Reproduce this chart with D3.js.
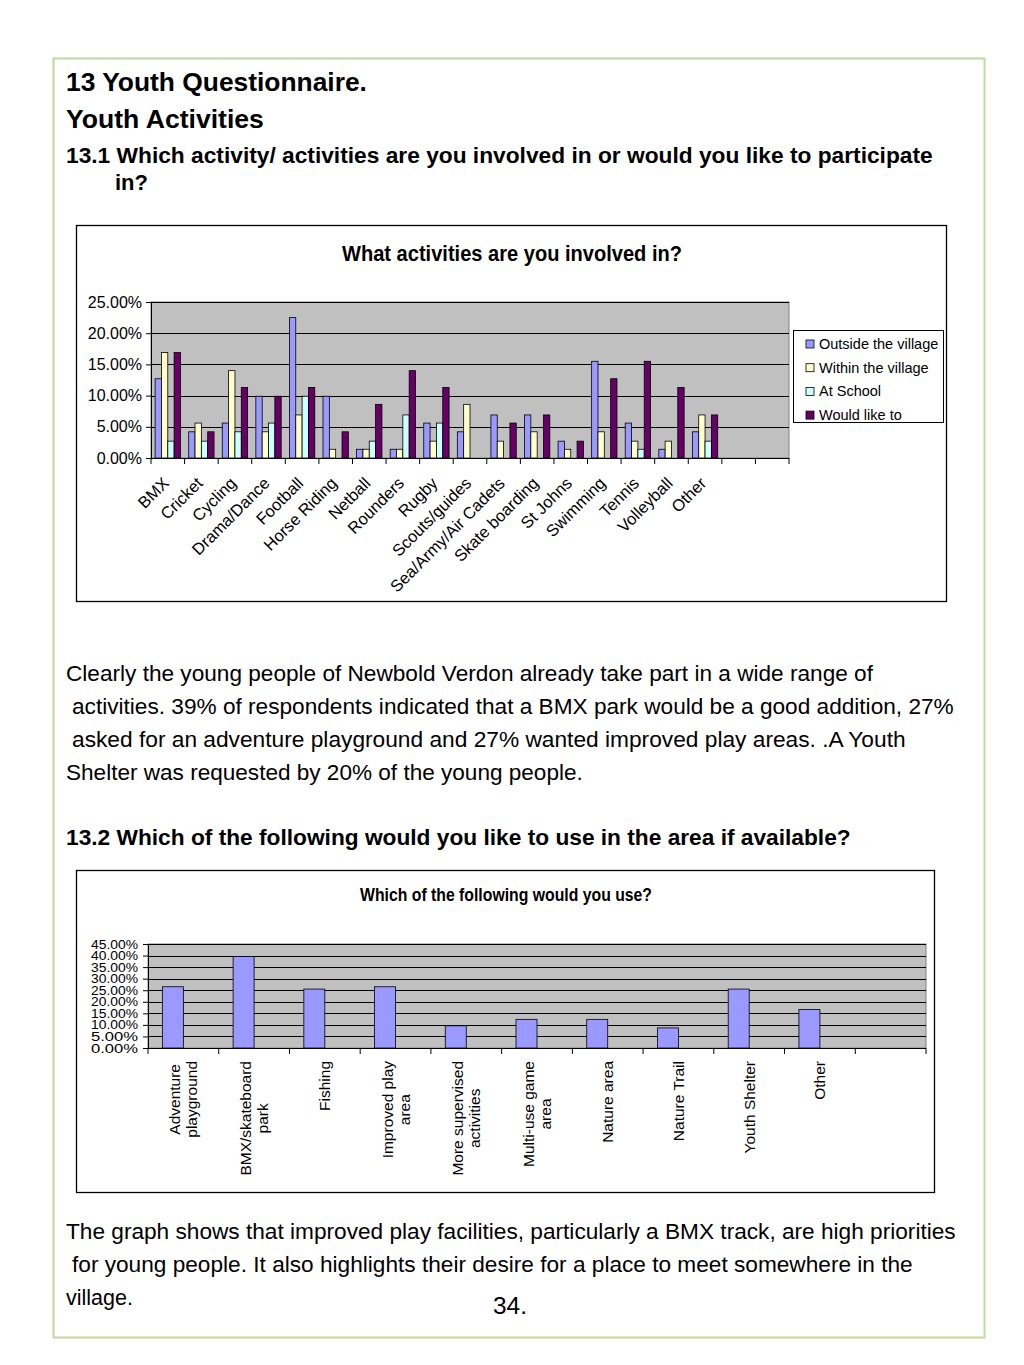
<!DOCTYPE html>
<html><head><meta charset="utf-8">
<script src="https://cdn.jsdelivr.net/npm/d3@7/dist/d3.min.js"></script>
<style>body{margin:0;background:#fff} svg{display:block} text{font-family:"Liberation Sans",Arial,Helvetica,sans-serif;fill:#000}</style>
</head><body><svg id="page" width="1024" height="1365"></svg>
<script>
// ---------- DATA ----------
const activities = ["BMX","Cricket","Cycling","Drama/Dance","Football","Horse Riding","Netball","Rounders","Rugby","Scouts/guides","Sea/Army/Air Cadets","Skate boarding","St Johns","Swimming","Tennis","Volleyball","Other"];
const seriesNames = ["Outside the village","Within the village","At School","Would like to"];
const outsideVillage = [12.7,4.2,5.6,9.9,22.5,9.9,1.4,1.4,5.6,4.2,6.9,6.9,2.7,15.5,5.6,1.4,4.2];
const withinVillage  = [16.9,5.6,14.0,4.2,6.9,1.4,1.4,1.4,2.7,8.6,2.7,4.2,1.4,4.2,2.7,2.7,6.9];
const atSchool       = [2.7,2.7,4.2,5.6,9.9,0,2.7,6.9,5.6,0,0,0,0,0,1.4,0,2.7];
const wouldLikeTo    = [16.9,4.2,11.3,9.9,11.3,4.2,8.6,14.0,11.3,0,5.6,6.9,2.7,12.7,15.5,11.3,6.9];
const ticks1 = [0,5,10,15,20,25];

const facilities = [["Adventure","playground"],["BMX/skateboard","park"],["Fishing"],["Improved play","area"],["More supervised","activities"],["Multi-use game","area"],["Nature area"],["Nature Trail"],["Youth Shelter"],["Other"]];
const useValues = [26.5,39.6,25.5,26.5,9.6,12.4,12.4,8.7,25.5,16.7];
const ticks2 = [0,5,10,15,20,25,30,35,40,45];

const colors = ["#9999ff","#ffffcc","#ccffff","#660066"];
const series1 = [outsideVillage, withinVillage, atSchool, wouldLikeTo];

// ---------- helpers ----------
const svg = d3.select("#page");
function fit(t, w){
  const l = t.node().getComputedTextLength();
  const fs = parseFloat(t.attr("font-size"));
  t.attr("font-size", (fs*w/l).toFixed(2));
  return t;
}
function txt(x, y, s, fs, bold, w){
  const t = svg.append("text").attr("x", x).attr("y", y).attr("font-size", fs)
    .attr("font-weight", bold ? "bold" : "normal").text(s);
  if (w) fit(t, w);
  return t;
}

// page border
svg.append("rect").attr("x",53.5).attr("y",58.5).attr("width",931).attr("height",1279)
  .attr("fill","none").attr("stroke","#c3d69b").attr("stroke-width",2);

// headings & text
txt(66, 91, "13 Youth Questionnaire.", 26, true, 301);
txt(66, 128, "Youth Activities", 26, true, 198);
txt(66, 163, "13.1 Which activity/ activities are you involved in or would you like to participate", 20, true, 867);
txt(115, 190, "in?", 20, true, 33);

txt(66, 681, "Clearly the young people of Newbold Verdon already take part in a wide range of", 20, false, 807);
txt(72, 714, "activities. 39% of respondents indicated that a BMX park would be a good addition, 27%", 20, false, 882);
txt(72, 747, "asked for an adventure playground and 27% wanted improved play areas. .A Youth", 20, false, 834);
txt(66, 780, "Shelter was requested by 20% of the young people.", 20, false, 517);

txt(66, 845, "13.2 Which of the following would you like to use in the area if available?", 20, true, 785);

txt(66, 1239, "The graph shows that improved play facilities, particularly a BMX track, are high priorities", 20, false, 890);
txt(72, 1272, "for young people. It also highlights their desire for a place to meet somewhere in the", 20, false, 841);
txt(66, 1305, "village.", 20, false, 67);
txt(493, 1314, "34.", 20, false, 34);

// ---------- CHART 1 ----------
(function(){
  const g = svg.append("g");
  g.append("rect").attr("x",76.5).attr("y",225.5).attr("width",870).attr("height",376)
    .attr("fill","#fff").attr("stroke","#000").attr("stroke-width",1.3);
  g.append("text").attr("x",512).attr("y",261).attr("text-anchor","middle")
    .attr("font-size",21.5).attr("font-weight","bold")
    .attr("textLength",340).attr("lengthAdjust","spacingAndGlyphs")
    .text("What activities are you involved in?");

  const L = 151, R = 789, T = 302, B = 458;
  const x = d3.scaleBand().domain(d3.range(activities.length + 2)).range([L, R]);
  const xi = d3.scaleBand().domain(seriesNames).range([0, x.bandwidth()]).paddingInner(0).paddingOuter(0.65);
  const y = d3.scaleLinear().domain([0, 25]).range([B, T]);

  g.append("rect").attr("x",L).attr("y",T).attr("width",R-L).attr("height",B-T)
    .attr("fill","#c0c0c0").attr("stroke","#808080").attr("stroke-width",1);
  g.selectAll(".grid").data(ticks1.filter(d=>d>0)).join("line")
    .attr("x1",L).attr("x2",R).attr("y1",d=>Math.round(y(d))+0.5).attr("y2",d=>Math.round(y(d))+0.5)
    .attr("stroke","#000").attr("stroke-width",1);

  series1.forEach((vals, si) => {
    g.append("g").selectAll("rect").data(vals.map((v,i)=>({v,i})).filter(d=>d.v>0)).join("rect")
      .attr("x", d => x(d.i) + xi(seriesNames[si]))
      .attr("y", d => y(d.v))
      .attr("width", xi.bandwidth())
      .attr("height", d => B - y(d.v))
      .attr("fill", colors[si]).attr("stroke","#000").attr("stroke-width",0.8);
  });

  const ya = g.append("g").attr("transform",`translate(${L},0)`)
    .call(d3.axisLeft(y).tickValues(ticks1).tickFormat(d=>d.toFixed(2)+"%").tickSize(5).tickPadding(4));
  ya.select(".domain").attr("stroke","#000");
  ya.selectAll("text").attr("font-size",16).attr("font-family","Liberation Sans, Arial, sans-serif").attr("fill","#000");

  g.append("line").attr("x1",L).attr("x2",R).attr("y1",B+0.5).attr("y2",B+0.5).attr("stroke","#000");
  const bounds = x.domain().map(d=>x(d)).concat([R]);
  g.selectAll(".xt").data(bounds).join("line")
    .attr("x1",d=>d).attr("x2",d=>d).attr("y1",B).attr("y2",B+6).attr("stroke","#000");

  g.selectAll(".xl").data(activities).join("text")
    .attr("transform",(d,i)=>`translate(${x(i)+x.bandwidth()/2-6},${B+18}) rotate(-45)`)
    .attr("text-anchor","end").attr("dy","0.71em").attr("font-size",16.5).text(d=>d);

  // legend
  const lg = g.append("g");
  lg.append("rect").attr("x",793.5).attr("y",330.5).attr("width",150).attr("height",92)
    .attr("fill","#fff").attr("stroke","#000").attr("stroke-width",1);
  seriesNames.forEach((s,i)=>{
    const cy = 344 + i*23.7;
    lg.append("rect").attr("x",806).attr("y",cy-4).attr("width",8).attr("height",8)
      .attr("fill",colors[i]).attr("stroke","#000").attr("stroke-width",0.8);
    lg.append("text").attr("x",819).attr("y",cy).attr("dy","0.35em").attr("font-size",14.5).text(s);
  });
})();

// ---------- CHART 2 ----------
(function(){
  const g = svg.append("g");
  g.append("rect").attr("x",76.5).attr("y",870.5).attr("width",858).attr("height",322)
    .attr("fill","#fff").attr("stroke","#000").attr("stroke-width",1.3);
  g.append("text").attr("x",506).attr("y",901).attr("text-anchor","middle")
    .attr("font-size",18).attr("font-weight","bold")
    .attr("textLength",292).attr("lengthAdjust","spacingAndGlyphs")
    .text("Which of the following would you use?");

  const L = 148, R = 926, T = 944, B = 1048;
  const x = d3.scaleBand().domain(d3.range(facilities.length + 1)).range([L, R]);
  const xi = d3.scaleBand().domain(["value","blank"]).range([0, x.bandwidth()]).paddingInner(0).paddingOuter(0.685);
  const y = d3.scaleLinear().domain([0, 45]).range([B, T]);

  g.append("rect").attr("x",L).attr("y",T).attr("width",R-L).attr("height",B-T)
    .attr("fill","#c0c0c0").attr("stroke","#808080").attr("stroke-width",1);
  g.selectAll(".grid").data(ticks2.filter(d=>d>0)).join("line")
    .attr("x1",L).attr("x2",R).attr("y1",d=>Math.round(y(d))+0.5).attr("y2",d=>Math.round(y(d))+0.5)
    .attr("stroke","#000").attr("stroke-width",1);

  g.append("g").selectAll("rect").data(useValues.map((v,i)=>({v,i}))).join("rect")
    .attr("x", d => x(d.i) + xi("value"))
    .attr("y", d => y(d.v))
    .attr("width", xi.bandwidth())
    .attr("height", d => B - y(d.v))
    .attr("fill", colors[0]).attr("stroke","#000").attr("stroke-width",0.8);

  const ya = g.append("g").attr("transform",`translate(${L},0)`)
    .call(d3.axisLeft(y).tickValues(ticks2).tickFormat(d=>d.toFixed(2)+"%").tickSize(5).tickPadding(5));
  ya.select(".domain").attr("stroke","#000");
  ya.selectAll("text").attr("font-size",12.5).attr("font-family","Liberation Sans, Arial, sans-serif").attr("fill","#000")
    .attr("textLength",47).attr("lengthAdjust","spacingAndGlyphs");

  g.append("line").attr("x1",L).attr("x2",R).attr("y1",B+0.5).attr("y2",B+0.5).attr("stroke","#000");
  const bounds = x.domain().map(d=>x(d)).concat([R]);
  g.selectAll(".xt").data(bounds).join("line")
    .attr("x1",d=>d).attr("x2",d=>d).attr("y1",B).attr("y2",B+6).attr("stroke","#000");

  const top = 1061, lh = 17, fs = 15.5;
  facilities.forEach((lines, i) => {
    const cx = x(i) + x.bandwidth()/2;
    const ts = lines.map((s, k) => g.append("text").attr("font-size", fs).attr("text-anchor","middle")
      .attr("dominant-baseline","central").text(s));
    const W = d3.max(ts, t => t.node().getComputedTextLength());
    ts.forEach((t, k) => {
      const lx = cx + (k - (lines.length-1)/2) * lh;
      t.attr("transform", `translate(${lx},${top + W/2}) rotate(-90)`);
    });
  });
})();
</script>
</body></html>
